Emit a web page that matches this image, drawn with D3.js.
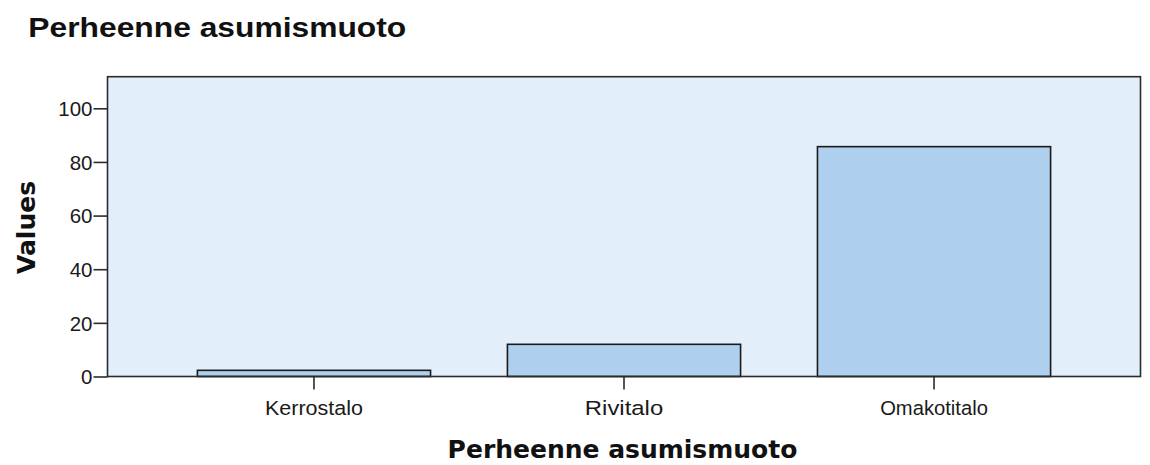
<!DOCTYPE html>
<meta charset="utf-8" />
<script src="https://d3js.org/d3.v7.min.js"></script>
<body style="margin:0;background:#fff">
<svg id="chart" width="1150" height="465" style="display:block"></svg>
<script>
/* data */
const categories = ["Kerrostalo", "Rivitalo", "Omakotitalo"];
const values = [2.3, 12.0, 85.7];
const yTicks = [0, 20, 40, 60, 80, 100];
const title = "Perheenne asumismuoto";
const xTitle = "Perheenne asumismuoto";
const yTitle = "Values";

/* layout */
const L = 107.5, R = 1140.5, T = 76.7, B = 376.5;
const svg = d3.select("#chart");

const x = d3.scaleBand().domain(categories).range([L, R])
  .paddingInner(0.248).paddingOuter(0.29);
const y = d3.scaleLinear().domain([0, 100]).range([B, 108.3]);

// plot background
svg.append("rect").attr("x", L).attr("y", T).attr("width", R - L).attr("height", B - T)
  .attr("fill", "#e2eefa");

// bars
svg.append("g").selectAll("rect").data(values).join("rect")
  .attr("x", (d, i) => x(categories[i]))
  .attr("width", x.bandwidth())
  .attr("y", d => y(d))
  .attr("height", d => y(0) - y(d))
  .attr("fill", "#aecfed").attr("stroke", "#1a1a1a").attr("stroke-width", 1.6);

// frame
svg.append("rect").attr("x", L).attr("y", T).attr("width", R - L).attr("height", B - T)
  .attr("fill", "none").attr("stroke", "#2b2b2b").attr("stroke-width", 1.6);

// y axis
const ya = svg.append("g").attr("transform", `translate(${L},0)`)
  .call(d3.axisLeft(y).tickValues(yTicks).tickSize(14).tickPadding(1).tickSizeOuter(0));
ya.select(".domain").remove();
ya.selectAll("line").attr("stroke", "#2b2b2b").attr("stroke-width", 1.6);
ya.selectAll("text").attr("font-family", "Liberation Sans, Arial, sans-serif")
  .attr("font-size", 20.5).attr("fill", "#1a1a1a").attr("dy", "0.36em");

// x axis
const xa = svg.append("g").attr("transform", `translate(0,${B})`)
  .call(d3.axisBottom(x).tickSize(13).tickPadding(8).tickSizeOuter(0));
xa.select(".domain").remove();
xa.selectAll("line").attr("stroke", "#2b2b2b").attr("stroke-width", 1.6);
xa.selectAll("text").attr("font-family", "Liberation Sans, Arial, sans-serif")
  .attr("font-size", 20.5).attr("fill", "#1a1a1a").attr("dy", "0.85em")
  .attr("textLength", d => d.length * 9.8).attr("lengthAdjust", "spacingAndGlyphs");

// titles
svg.append("text").attr("x", 28.3).attr("y", 37)
  .attr("font-family", "Liberation Sans, Arial, sans-serif").attr("font-weight", "bold")
  .attr("font-size", 28).attr("fill", "#111")
  .attr("textLength", 378).attr("lengthAdjust", "spacingAndGlyphs")
  .text(title);

svg.append("text").attr("x", 622.5).attr("y", 458).attr("text-anchor", "middle")
  .attr("font-family", "DejaVu Sans, sans-serif").attr("font-weight", "bold")
  .attr("font-size", 25).attr("fill", "#111")
  .text(xTitle);

svg.append("text").attr("transform", "translate(35,227.5) rotate(-90)").attr("text-anchor", "middle")
  .attr("font-family", "DejaVu Sans, sans-serif").attr("font-weight", "bold")
  .attr("font-size", 25).attr("fill", "#111")
  .text(yTitle);
</script>
</body>
